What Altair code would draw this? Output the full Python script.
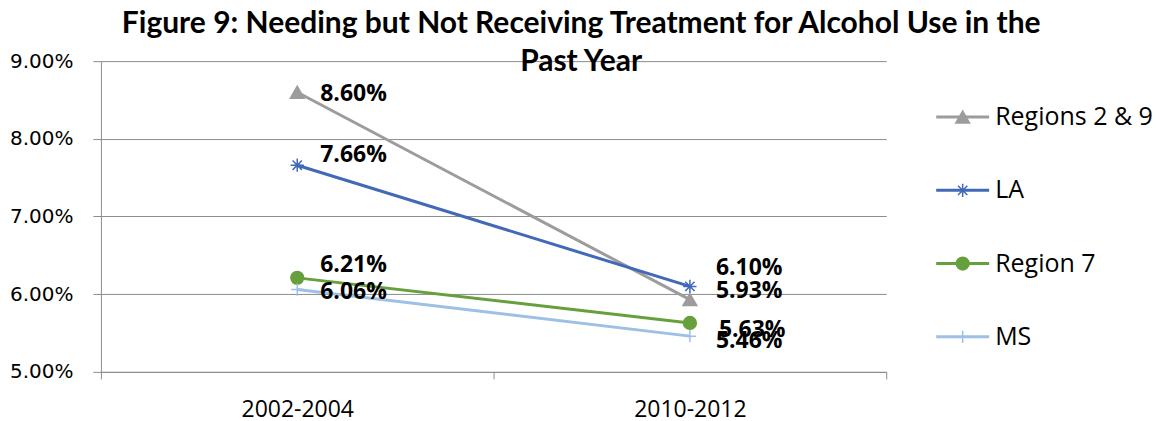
import altair as alt
import pandas as pd

periods = ["2002-2004", "2010-2012"]
series_names = ["Regions 2 & 9", "LA", "Region 7", "MS"]
regions_2_9 = [0.0860, 0.0593]
la = [0.0766, 0.0610]
region_7 = [0.0621, 0.0563]
ms = [0.0606, 0.0546]
y_ticks = [0.05, 0.06, 0.07, 0.08, 0.09]
title_lines = ["Figure 9: Needing but Not Receiving Treatment for Alcohol Use in the", "Past Year"]

colors = ["#9C9C9C", "#4169B8", "#66A03D", "#9DC0E4"]
asterisk = "M-1,0L1,0M0,-1L0,1M-0.7,-0.7L0.7,0.7M-0.7,0.7L0.7,-0.7"
plus = "M-1,0L1,0M0,-1L0,1"
shapes = ["triangle-up", asterisk, "circle", plus]

rows = []
for name, vals in zip(series_names, [regions_2_9, la, region_7, ms]):
    for p, v in zip(periods, vals):
        rows.append({"series": name, "period": p, "value": v})
df = pd.DataFrame(rows)

# label offsets (dx, dy) in pixels, styling only
label_offsets = {
    ("Regions 2 & 9", "2002-2004"): (23, 2),
    ("LA", "2002-2004"): (23, -10),
    ("Region 7", "2002-2004"): (23, -13),
    ("MS", "2002-2004"): (23, 2),
    ("Regions 2 & 9", "2010-2012"): (26, -9),
    ("LA", "2010-2012"): (26, -18),
    ("Region 7", "2010-2012"): (29, 7),
    ("MS", "2010-2012"): (26, 5),
}

grid_color = "#8C8C8C"
W, H = 786, 311

color_scale = alt.Scale(domain=series_names, range=colors)
shape_scale = alt.Scale(domain=series_names, range=shapes)
size_scale = alt.Scale(domain=series_names, range=[190, 150, 170, 150])

x_enc = alt.X("period:N", sort=periods, title=None,
              scale=alt.Scale(paddingInner=0, paddingOuter=0),
              axis=alt.Axis(labelAngle=0, tickBand="extent", tickSize=7, tickColor=grid_color,
                            domainColor=grid_color, labelFont="Open Sans", labelFontSize=23,
                            labelColor="#000000", labelPadding=20, grid=False))
y_enc = alt.Y("value:Q", title=None,
              scale=alt.Scale(domain=[0.05, 0.09], nice=False, zero=False),
              axis=alt.Axis(values=y_ticks, format=".2%", tickSize=8, tickColor=grid_color,
                            domainColor=grid_color, gridColor=grid_color, grid=True,
                            labelFont="DejaVu Sans", labelFontSize=20, labelColor="#000000",
                            labelPadding=20, minExtent=84, maxExtent=84))

base = alt.Chart(df)
lines = base.mark_line(strokeWidth=3).encode(
    x=x_enc, y=y_enc,
    color=alt.Color("series:N", scale=color_scale, legend=None),
    order=alt.Order("period:N"),
    detail="series:N",
)
points = base.mark_point(filled=True, strokeWidth=1.5, opacity=1).encode(
    x=alt.X("period:N", sort=periods),
    y="value:Q",
    fill=alt.Fill("series:N", scale=color_scale, legend=None),
    stroke=alt.Stroke("series:N", scale=color_scale, legend=None),
    shape=alt.Shape("series:N", scale=shape_scale, legend=None),
    size=alt.Size("series:N", scale=size_scale, legend=None),
)

label_layers = []
for (s, p), (dx, dy) in label_offsets.items():
    label_layers.append(
        base.transform_filter((alt.datum.series == s) & (alt.datum.period == p))
        .mark_text(align="left", baseline="middle", dx=dx, dy=dy, font="Open Sans",
                   fontSize=23, fontWeight="bold", color="#000000")
        .encode(x=alt.X("period:N", sort=periods), y="value:Q",
                text=alt.Text("value:Q", format=".2%"))
    )

main = alt.layer(lines, points, *label_layers).properties(width=W, height=H)

# legend panel
leg_df = pd.DataFrame({"series": series_names, "idx": list(range(len(series_names)))})
leg_base = alt.Chart(leg_df)
lx = alt.Scale(domain=[0, 250], nice=False, zero=False)
ly = alt.Scale(domain=[-0.763, 3.478], nice=False, zero=False, reverse=True)
leg_rule = leg_base.mark_rule(strokeWidth=3).encode(
    x=alt.X("x0:Q", scale=lx, axis=None), x2="x1:Q",
    y=alt.Y("idx:Q", scale=ly, axis=None),
    color=alt.Color("series:N", scale=color_scale, legend=None),
).transform_calculate(x0="35", x1="88")
leg_pts = leg_base.mark_point(filled=True, strokeWidth=1.5, opacity=1).encode(
    x=alt.X("xm:Q", scale=lx, axis=None),
    y=alt.Y("idx:Q", scale=ly, axis=None),
    fill=alt.Fill("series:N", scale=color_scale, legend=None),
    stroke=alt.Stroke("series:N", scale=color_scale, legend=None),
    shape=alt.Shape("series:N", scale=shape_scale, legend=None),
    size=alt.Size("series:N", scale=size_scale, legend=None),
).transform_calculate(xm="61.5")
leg_txt = leg_base.mark_text(align="left", baseline="middle", font="Open Sans", fontSize=25,
                             color="#000000").encode(
    x=alt.X("xt:Q", scale=lx, axis=None),
    y=alt.Y("idx:Q", scale=ly, axis=None),
    text="series:N",
).transform_calculate(xt="94")
legend_panel = alt.layer(leg_rule, leg_pts, leg_txt).properties(width=250, height=H)

chart = alt.hconcat(main, legend_panel, spacing=14).resolve_scale(
    color="shared", shape="shared", size="shared", fill="shared", stroke="shared"
).properties(
    title=alt.TitleParams(text=title_lines, font="Lato", fontSize=30, fontWeight="bold",
                          color="#000000", lineHeight=38, anchor="middle", offset=-26),
    padding={"left": 1, "top": 1, "right": 0, "bottom": 0},
).configure_view(stroke=None).configure_concat(spacing=14)

chart.save("out.html", embed_options={"renderer": "svg", "actions": False})
